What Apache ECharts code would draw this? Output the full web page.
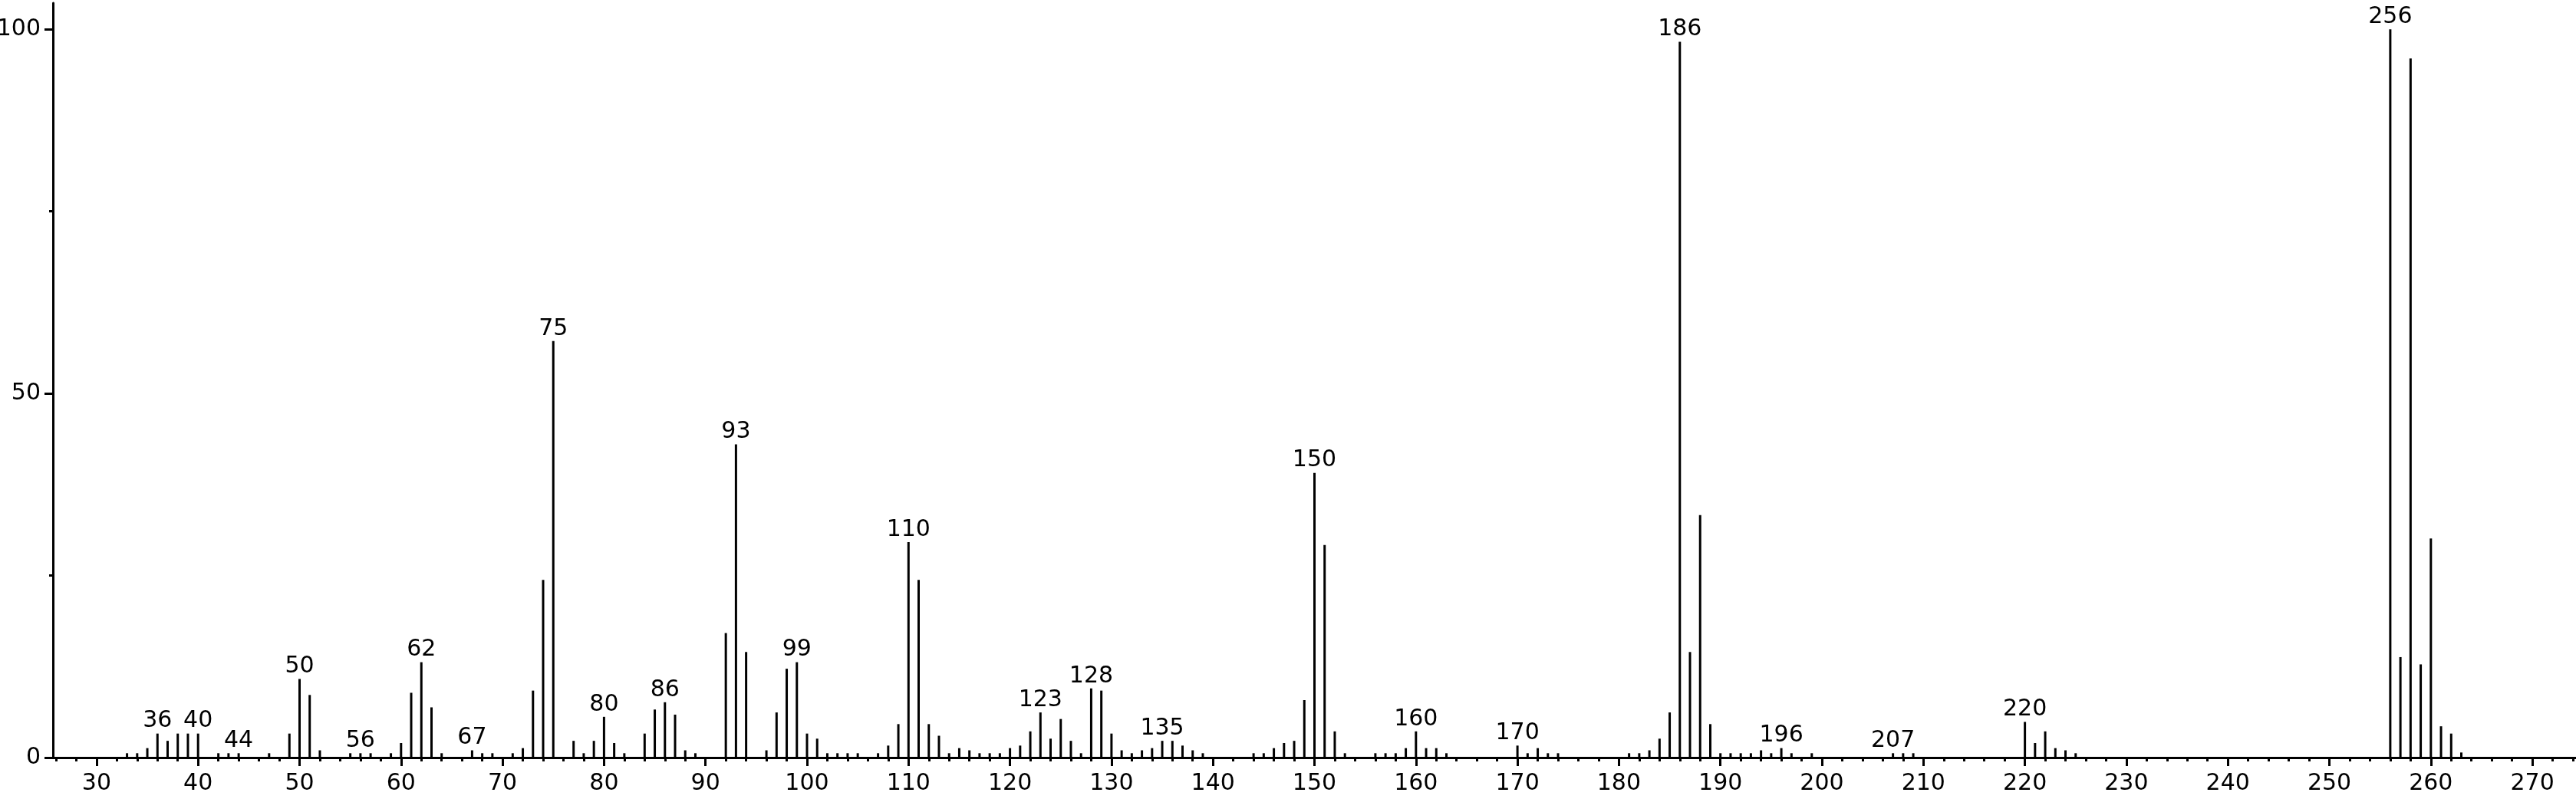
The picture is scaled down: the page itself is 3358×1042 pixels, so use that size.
<!DOCTYPE html>
<html>
<head>
<meta charset="utf-8">
<script src="https://cdn.jsdelivr.net/npm/echarts@6/dist/echarts.min.js"></script>
<style>
  html, body { margin: 0; padding: 0; background: #ffffff; }
  #chart { width: 3358px; height: 1042px; }
</style>
</head>
<body>
<div id="chart"></div>
<script>
// m/z values of the peaks
const mz = [33, 34, 35, 36, 37, 38, 39, 40, 42, 43, 44, 47, 49, 50, 51, 52, 55, 56, 57, 59,
  60, 61, 62, 63, 64, 67, 68, 69, 71, 72, 73, 74, 75, 77, 78, 79, 80, 81, 82, 84,
  85, 86, 87, 88, 89, 92, 93, 94, 96, 97, 98, 99, 100, 101, 102, 103, 104, 105, 107, 108,
  109, 110, 111, 112, 113, 114, 115, 116, 117, 118, 119, 120, 121, 122, 123, 124, 125, 126, 127, 128,
  129, 130, 131, 132, 133, 134, 135, 136, 137, 138, 139, 144, 145, 146, 147, 148, 149, 150, 151, 152,
  153, 156, 157, 158, 159, 160, 161, 162, 163, 170, 171, 172, 173, 174, 181, 182, 183, 184, 185, 186,
  187, 188, 189, 190, 191, 192, 193, 194, 195, 196, 197, 199, 207, 208, 209, 220, 221, 222, 223, 224,
  225, 256, 257, 258, 259, 260, 261, 262, 263];
// relative intensities (%)
const intensity = [0.6, 0.6, 1.3, 3.3, 2.3, 3.3, 3.3, 3.3, 0.6, 0.6, 0.6, 0.6, 3.3, 10.8, 8.6, 1.0, 0.6, 0.6, 0.6, 0.6,
  2.0, 8.9, 13.1, 6.9, 0.6, 1.0, 0.6, 0.6, 0.6, 1.3, 9.2, 24.4, 57.2, 2.3, 0.6, 2.3, 5.6, 2.0, 0.6, 3.3,
  6.6, 7.6, 5.9, 1.0, 0.6, 17.1, 43.0, 14.5, 1.0, 6.2, 12.2, 13.1, 3.3, 2.6, 0.6, 0.6, 0.6, 0.6, 0.6, 1.65,
  4.6, 29.6, 24.4, 4.6, 3.0, 0.6, 1.3, 1.0, 0.6, 0.6, 0.6, 1.3, 1.65, 3.6, 6.2, 2.6, 5.3, 2.3, 0.6, 9.5,
  9.2, 3.3, 1.0, 0.6, 1.0, 1.3, 2.3, 2.3, 1.65, 1.0, 0.6, 0.6, 0.6, 1.3, 2.0, 2.3, 7.9, 39.1, 29.2, 3.6,
  0.6, 0.6, 0.6, 0.6, 1.3, 3.6, 1.3, 1.3, 0.6, 1.65, 0.6, 1.3, 0.6, 0.6, 0.6, 0.6, 1.0, 2.6, 6.2, 98.3,
  14.5, 33.3, 4.6, 0.6, 0.6, 0.6, 0.6, 1.0, 0.6, 1.3, 0.6, 0.6, 0.6, 0.6, 0.6, 4.9, 2.0, 3.6, 1.3, 1.0,
  0.6, 100, 13.8, 96.0, 12.8, 30.1, 4.3, 3.3, 0.7];
// peaks carrying an m/z label
const labeledPeaks = [36, 40, 44, 50, 56, 62, 67, 75, 80, 86, 93, 99, 110, 123, 128, 135, 150, 160, 170, 186, 196, 207, 220, 256];
// axis tick labels
const xTickLabels = [30, 40, 50, 60, 70, 80, 90, 100, 110, 120, 130, 140, 150, 160, 170, 180, 190, 200, 210, 220, 230, 240, 250, 260, 270];
const xMinorTicks = [26, 28, 32, 34, 36, 38, 42, 44, 46, 48, 52, 54, 56, 58, 62, 64, 66, 68, 72, 74, 76, 78, 82, 84, 86, 88,
  92, 94, 96, 98, 102, 104, 106, 108, 112, 114, 116, 118, 122, 124, 126, 128, 132, 134, 136, 138, 142, 144, 146, 148,
  152, 154, 156, 158, 162, 164, 166, 168, 172, 174, 176, 178, 182, 184, 186, 188, 192, 194, 196, 198, 202, 204, 206, 208,
  212, 214, 216, 218, 222, 224, 226, 228, 232, 234, 236, 238, 242, 244, 246, 248, 252, 254, 256, 258, 262, 264, 266, 268, 272, 274];
const yTickLabels = [0, 50, 100];
const yMinorTicks = [25, 75];

const FONT = "'DejaVu Sans', 'Liberation Sans', Arial, sans-serif";
const X_MIN = 25.7, X_MAX = 274.3, Y_MAX = 103.61;

const chart = echarts.init(document.getElementById('chart'), null, { renderer: 'canvas' });
const data = mz.map((m, i) => [m, intensity[i]]);

chart.setOption({
  backgroundColor: '#ffffff',
  animation: false,
  grid: { left: 69, right: 0, top: 4, bottom: 54, containLabel: false, outerBoundsMode: 'none' },
  xAxis: [
    {
      type: 'value', min: X_MIN, max: X_MAX, position: 'bottom',
      axisLine: { show: true, onZero: false, lineStyle: { color: '#000', width: 3 } },
      axisTick: { show: true, customValues: xTickLabels, length: 11, lineStyle: { color: '#000', width: 3 } },
      axisLabel: { show: true, customValues: xTickLabels, fontSize: 30, color: '#000', fontFamily: FONT, margin: 19 },
      splitLine: { show: false }
    },
    {
      type: 'value', min: X_MIN, max: X_MAX, position: 'bottom',
      axisLine: { show: false },
      axisTick: { show: true, customValues: xMinorTicks, length: 5, lineStyle: { color: '#000', width: 3 } },
      axisLabel: { show: false },
      splitLine: { show: false }
    }
  ],
  yAxis: [
    {
      type: 'value', min: 0, max: Y_MAX, position: 'left',
      axisLine: { show: true, onZero: false, lineStyle: { color: '#000', width: 3 } },
      axisTick: { show: true, customValues: yTickLabels, length: 11, lineStyle: { color: '#000', width: 3 } },
      axisLabel: { show: true, customValues: yTickLabels, fontSize: 30, color: '#000', fontFamily: FONT, margin: 16 },
      splitLine: { show: false }
    },
    {
      type: 'value', min: 0, max: Y_MAX, position: 'left',
      axisLine: { show: false },
      axisTick: { show: true, customValues: yMinorTicks, length: 5, lineStyle: { color: '#000', width: 3 } },
      axisLabel: { show: false },
      splitLine: { show: false }
    }
  ],
  series: [
    {
      type: 'bar',
      xAxisIndex: 0, yAxisIndex: 0,
      barWidth: 3,
      data: data,
      itemStyle: { color: '#000' },
      label: {
        show: true, position: 'top', distance: 1,
        fontSize: 30, color: '#000', fontFamily: FONT,
        formatter: p => labeledPeaks.includes(p.value[0]) ? String(p.value[0]) : ''
      },
      emphasis: { disabled: true }
    }
  ]
});
</script>
</body>
</html>
